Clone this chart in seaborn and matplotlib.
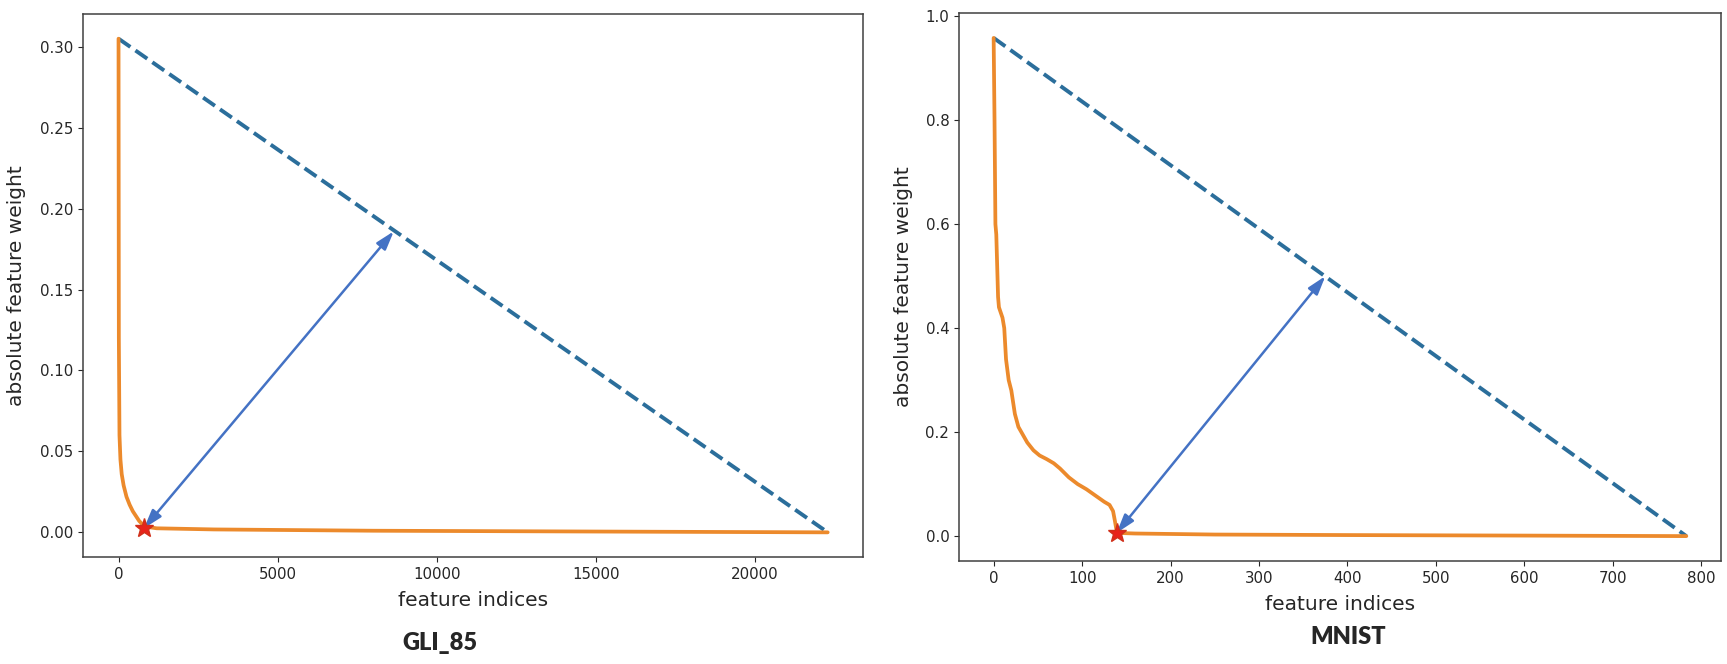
import pandas as pd
import seaborn as sns
import matplotlib.pyplot as plt

# GLI_85: sorted absolute feature weights
gli_idx = [0, 10, 30, 60, 100, 160, 250, 350, 450, 550, 650, 750, 850, 1200, 3000, 8000,
           15000, 22283]
gli_w = [0.305, 0.12, 0.06, 0.045, 0.036, 0.029, 0.022, 0.017, 0.013, 0.010, 0.007, 0.005,
         0.0035, 0.0025, 0.0018, 0.0010, 0.0005, 0.0]
gli_knee = (800, 0.0025)
gli_arrow_tip = (8650, 0.186)

# MNIST: sorted absolute feature weights
mnist_idx = [0, 1, 2, 3, 4, 5, 6, 8, 10, 12, 14, 17, 20, 24, 28, 33, 38, 45, 52, 60, 68, 75,
             85, 95, 105, 115, 125, 131, 135, 137, 139, 142, 160, 250, 400, 600, 783]
mnist_w = [0.958, 0.80, 0.60, 0.58, 0.52, 0.46, 0.44, 0.43, 0.42, 0.40, 0.34, 0.30, 0.28, 0.235,
           0.21, 0.195, 0.18, 0.165, 0.155, 0.148, 0.14, 0.13, 0.113, 0.10, 0.09, 0.078, 0.066,
           0.06, 0.048, 0.03, 0.01, 0.006, 0.005, 0.003, 0.002, 0.001, 0.0]
mnist_knee = (139, 0.006)
mnist_arrow_tip = (375, 0.50)

sns.set_style("ticks")
plt.rcParams['font.family'] = ['DejaVu Sans']

fig = plt.figure(figsize=(17.27, 6.64), dpi=100)
ax1 = fig.add_axes([0.0481, 0.1611, 0.4517, 0.8178])
ax2 = fig.add_axes([0.5553, 0.1551, 0.4412, 0.8253])


def draw_panel(ax, idx, w, knee, tip):
    df = pd.DataFrame({'idx': idx, 'w': w})
    # chord from the first to the last point
    chord = pd.DataFrame({'idx': [idx[0], idx[-1]], 'w': [w[0], w[-1]]})
    sns.lineplot(data=chord, x='idx', y='w', ax=ax, color='#2b6e9b', lw=2.8,
                 linestyle='--', zorder=2)
    sns.lineplot(data=df, x='idx', y='w', ax=ax, color='#ec8a2c', lw=2.7, sort=False, zorder=3)
    ax.annotate('', xy=tip, xytext=knee,
                arrowprops=dict(arrowstyle='<|-|>,head_length=0.7,head_width=0.22',
                                color='#4472c4', lw=1.8, mutation_scale=16,
                                shrinkA=0, shrinkB=0), zorder=4)
    ax.plot([knee[0]], [knee[1]], marker='*', color='#e8231b', markeredgecolor='#d0301a',
            markersize=14, zorder=5)
    ax.set_xlabel('feature indices', fontsize=14.5)
    ax.set_ylabel('absolute feature weight', fontsize=14.5)
    ax.tick_params(labelsize=10.8, colors='.15')
    for s in ax.spines.values():
        s.set_linewidth(1.1)
        s.set_color('.25')


draw_panel(ax1, gli_idx, gli_w, gli_knee, gli_arrow_tip)
draw_panel(ax2, mnist_idx, mnist_w, mnist_knee, mnist_arrow_tip)

ax1.yaxis.set_label_coords(-0.073, 0.5)
ax2.yaxis.set_label_coords(-0.060, 0.5)
ax1.xaxis.set_label_coords(0.5, -0.062)
ax2.xaxis.set_label_coords(0.5, -0.062)

fig.text(440 / 1727, 1 - 643 / 664, 'GLI_85', ha='center', va='center',
         fontsize=17, fontweight='heavy', family=['Lato', 'DejaVu Sans'])
fig.text(1348 / 1727, 1 - 637 / 664, 'MNIST', ha='center', va='center',
         fontsize=17, fontweight='heavy', family=['Lato', 'DejaVu Sans'])

plt.savefig('out.png', dpi=100)
